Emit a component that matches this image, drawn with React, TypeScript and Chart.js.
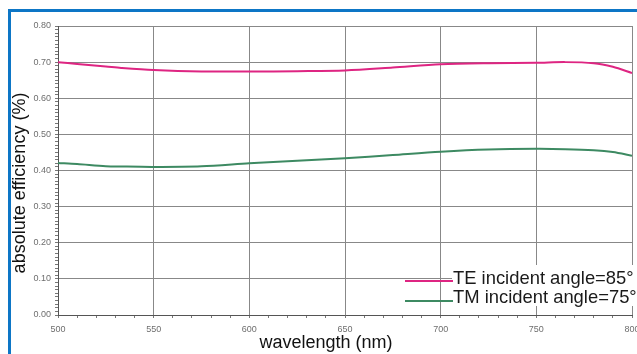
import React, { useEffect, useRef } from "react";
import { Chart, registerables } from "chart.js";

Chart.register(...registerables);

const wavelengths = [500, 510, 525, 533, 550, 575, 600, 625, 650, 675, 700, 725, 750, 765, 780, 790, 800];
const teValues = [0.700, 0.695, 0.688, 0.684, 0.678, 0.674, 0.674, 0.675, 0.677, 0.685, 0.694, 0.697, 0.698, 0.700, 0.697, 0.687, 0.670];
const tmValues = [0.421, 0.418, 0.412, 0.411, 0.410, 0.412, 0.420, 0.427, 0.434, 0.443, 0.452, 0.458, 0.460, 0.459, 0.456, 0.451, 0.441];
const seriesLabels = ["TE incident angle=85°", "TM incident angle=75°"];
const xTitle = "wavelength (nm)";
const yTitle = "absolute efficiency (%)";

const PINK = "#de2582";
const GREEN = "#3d8a62";
const GRID = "#888888";
const FONT = "'Liberation Sans', Arial, sans-serif";

const titlesAndLegend = {
  id: "titlesAndLegend",
  afterDraw(chart: any) {
    const ctx = chart.ctx;
    ctx.save();
    // legend
    ctx.fillStyle = "#ffffff";
    ctx.fillRect(452, 265, 190, 41);
    const colors = [PINK, GREEN];
    const lineYs = [281, 301];
    const textYs = [284, 303];
    ctx.lineWidth = 2;
    seriesLabels.forEach((lab, i) => {
      ctx.strokeStyle = colors[i];
      ctx.beginPath();
      ctx.moveTo(405, lineYs[i]);
      ctx.lineTo(453, lineYs[i]);
      ctx.stroke();
      ctx.fillStyle = "#1a1a1a";
      ctx.font = `18.4px ${FONT}`;
      ctx.textAlign = "left";
      ctx.textBaseline = "alphabetic";
      ctx.fillText(lab, 453, textYs[i]);
    });
    // axis titles
    ctx.fillStyle = "#111";
    ctx.font = `18px ${FONT}`;
    ctx.textAlign = "center";
    ctx.textBaseline = "middle";
    ctx.fillText(xTitle, 326, 343);
    ctx.translate(20, 183);
    ctx.rotate(-Math.PI / 2);
    ctx.fillText(yTitle, 0, 0);
    ctx.restore();
  },
};

export default function App() {
  const ref = useRef<HTMLCanvasElement | null>(null);
  useEffect(() => {
    if (!ref.current) return;
    const chart = new Chart(ref.current, {
      type: "line",
      data: {
        datasets: [
          {
            label: seriesLabels[0],
            data: wavelengths.map((x, i) => ({ x, y: teValues[i] })),
            borderColor: PINK,
            borderWidth: 2,
            pointRadius: 0,
            tension: 0.3,
          },
          {
            label: seriesLabels[1],
            data: wavelengths.map((x, i) => ({ x, y: tmValues[i] })),
            borderColor: GREEN,
            borderWidth: 2,
            pointRadius: 0,
            tension: 0.3,
          },
        ],
      },
      plugins: [titlesAndLegend],
      options: {
        responsive: false,
        animation: false,
        events: [],
        layout: { padding: { left: 0, top: 26, right: 5, bottom: 0 } },
        plugins: { legend: { display: false }, tooltip: { enabled: false } },
        scales: {
          x: {
            type: "linear",
            min: 500,
            max: 800,
            afterFit: (s: any) => {
              s.height = 39;
              s.paddingLeft = 0;
              s.paddingRight = 0;
            },
            ticks: {
              stepSize: 10,
              autoSkip: false,
              maxRotation: 0,
              maxTicksLimit: 100,
              padding: 6,
              color: "#6e6e6e",
              font: { family: FONT, size: 9 },
              callback: (v: any) => (Math.round(v) % 50 === 0 ? String(Math.round(v)) : ""),
            },
            grid: {
              color: (c: any) => (c.tick && Math.round(c.tick.value) % 50 === 0 ? GRID : "rgba(0,0,0,0)"),
              tickColor: "#777",
              tickLength: 3,
              lineWidth: 1,
            },
            border: { color: "#555", width: 1 },
          },
          y: {
            type: "linear",
            min: 0,
            max: 0.8,
            afterFit: (s: any) => {
              s.width = 58;
              s.paddingTop = 0;
              s.paddingBottom = 0;
            },
            ticks: {
              stepSize: 0.01,
              autoSkip: false,
              maxTicksLimit: 100,
              padding: 4,
              color: "#6e6e6e",
              font: { family: FONT, size: 9 },
              callback: (v: any) => (Math.round(v * 100) % 10 === 0 ? Number(v).toFixed(2) : ""),
            },
            grid: {
              color: (c: any) => (c.tick && Math.round(c.tick.value * 100) % 10 === 0 ? GRID : "rgba(0,0,0,0)"),
              tickColor: "#777",
              tickLength: 3,
              lineWidth: 1,
            },
            border: { color: "#555", width: 1 },
          },
        },
      },
    } as any);
    return () => chart.destroy();
  }, []);
  return (
    <div style={{ position: "fixed", left: 0, top: 0, width: 637, height: 354, background: "#fff", overflow: "hidden" }}>
      <canvas ref={ref} width={637} height={354} style={{ position: "absolute", left: 0, top: 0 }} />
      <div
        style={{
          position: "absolute",
          left: 8,
          top: 9,
          width: 700,
          height: 400,
          borderTop: "3px solid #0d76c6",
          borderLeft: "3px solid #0d76c6",
          pointerEvents: "none",
        }}
      />
    </div>
  );
}
